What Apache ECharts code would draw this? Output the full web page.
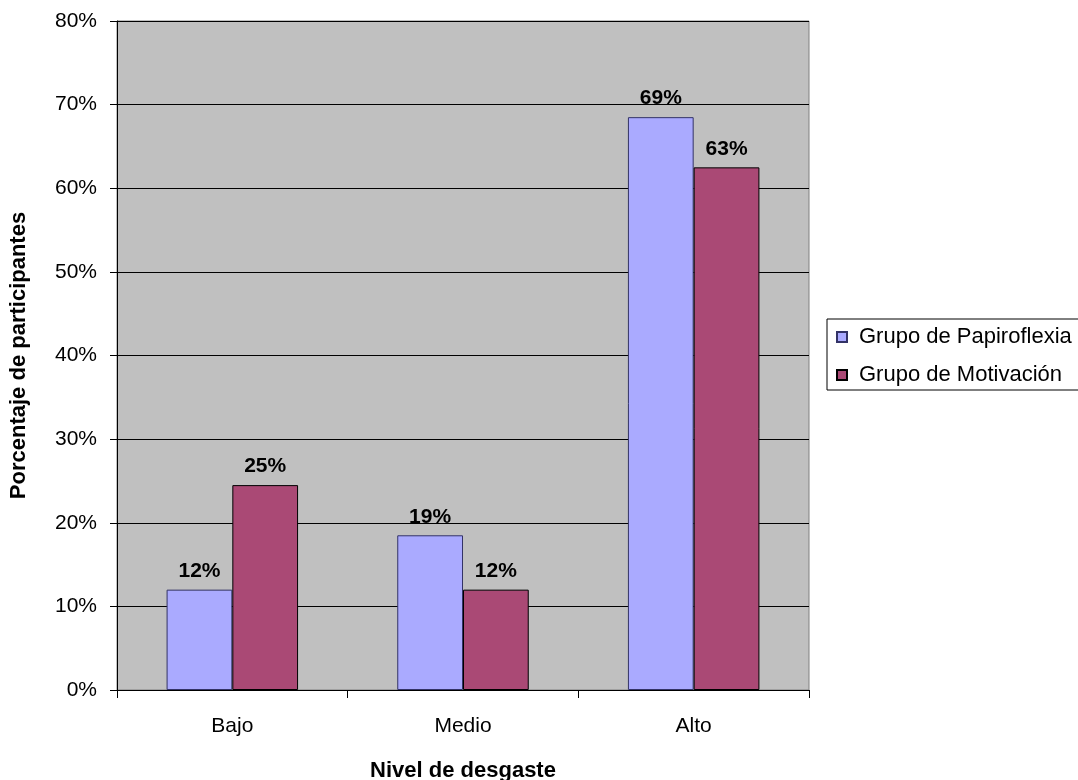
<!DOCTYPE html>
<html>
<head>
<meta charset="utf-8">
<script src="https://cdn.jsdelivr.net/npm/echarts@6/dist/echarts.min.js"></script>
<style>html,body{margin:0;padding:0;background:#fff;}#c{width:1078px;height:780px;}</style>
</head>
<body>
<div id="c"></div>
<script>
var categories = ['Bajo', 'Medio', 'Alto'];
var papiroflexia = [12.0, 18.5, 68.5];
var motivacion = [24.5, 12.0, 62.5];
var seriesNames = ['Grupo de Papiroflexia', 'Grupo de Motivación'];
var yTicks = [0, 10, 20, 30, 40, 50, 60, 70, 80];

var chart = echarts.init(document.getElementById('c'));
var F = 'Arial, "Liberation Sans", sans-serif';
var labelCfg = {
  show: true, position: 'top', distance: 8,
  fontFamily: F, fontWeight: 'bold', fontSize: 21, color: '#000',
  formatter: function (p) { return Math.round(p.value) + '%'; }
};
chart.setOption({
  animation: false,
  backgroundColor: '#fff',
  grid: { left: 117, right: 269, top: 21, bottom: 90, containLabel: false, outerBoundsMode: 'none',
    show: true, backgroundColor: '#c0c0c0', borderColor: '#808080', borderWidth: 1 },
  legend: {
    orient: 'vertical', left: 827, top: 319,
    padding: [7, 40, 4, 9], itemGap: 16,
    itemWidth: 10, itemHeight: 10, icon: 'rect',
    borderColor: '#000', borderWidth: 1, backgroundColor: '#fff',
    textStyle: { fontFamily: F, fontSize: 22, color: '#000', padding: [0, 0, 0, 7] },
    data: seriesNames
  },
  xAxis: {
    type: 'category', data: categories,
    name: 'Nivel de desgaste', nameLocation: 'middle', nameGap: 70,
    nameTextStyle: { fontFamily: F, fontWeight: 'bold', fontSize: 22, color: '#000' },
    axisLine: { lineStyle: { color: '#000', width: 1 } },
    axisTick: { show: true, length: 8, lineStyle: { color: '#000' } },
    axisLabel: { fontFamily: F, fontSize: 21, color: '#000', margin: 26 },
    splitLine: { show: false }
  },
  yAxis: {
    type: 'value', min: 0, max: 80, interval: 10,
    name: 'Porcentaje de participantes', nameLocation: 'middle', nameGap: 87,
    nameTextStyle: { fontFamily: F, fontWeight: 'bold', fontSize: 22, color: '#000' },
    axisLine: { show: true, lineStyle: { color: '#000', width: 1 } },
    axisTick: { show: true, length: 7, lineStyle: { color: '#000' } },
    axisLabel: { fontFamily: F, fontSize: 21, color: '#000', margin: 20,
      formatter: function (v) { return yTicks.indexOf(v) >= 0 ? v + '%' : ''; } },
    splitLine: { show: true, lineStyle: { color: '#000', width: 1 } }
  },
  series: [
    { name: seriesNames[0], type: 'bar', data: papiroflexia, barGap: '0%', barCategoryGap: '43%',
      itemStyle: { color: '#aaaaff', borderColor: '#333366', borderWidth: 1 }, label: labelCfg },
    { name: seriesNames[1], type: 'bar', data: motivacion,
      itemStyle: { color: '#aa4975', borderColor: '#000', borderWidth: 1 }, label: labelCfg }
  ]
});
</script>
</body>
</html>
